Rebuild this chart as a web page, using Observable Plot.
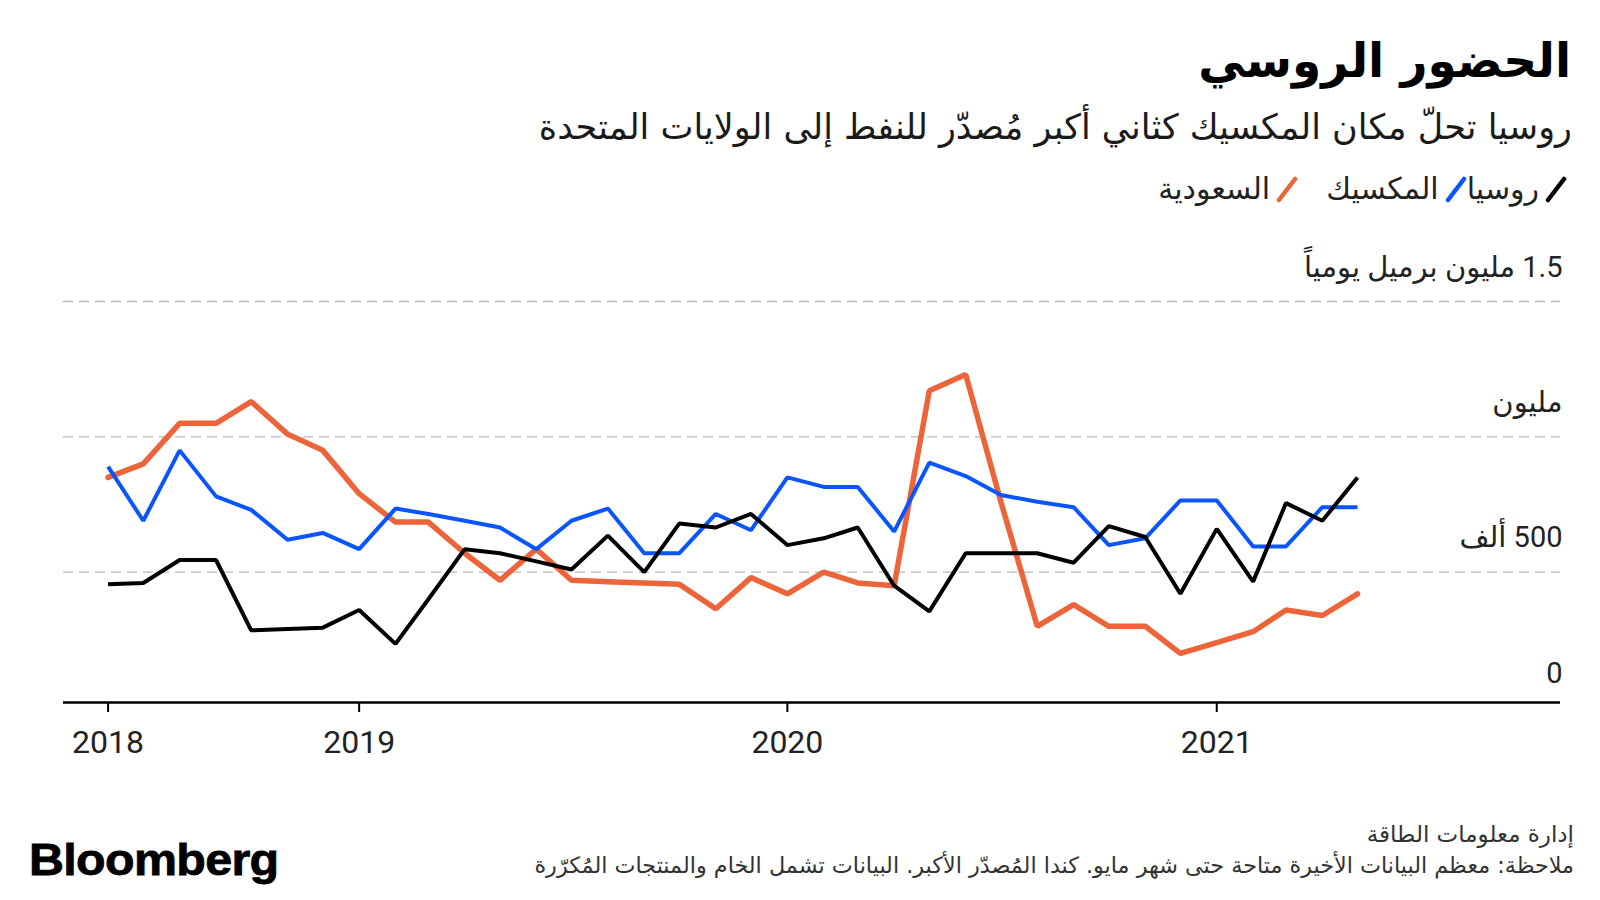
<!DOCTYPE html>
<html>
<head>
<meta charset="utf-8">
<script src="https://cdn.jsdelivr.net/npm/d3@7"></script>
<script src="https://cdn.jsdelivr.net/npm/@observablehq/plot@0.6"></script>
<style>
  html, body { margin: 0; padding: 0; background: #fff; }
  body { width: 1600px; height: 900px; position: relative; overflow: hidden; font-family: "DejaVu Sans", sans-serif; }
  .rtl { direction: rtl; position: absolute; white-space: nowrap; }
  #title { right: 29px; top: 33px; font-size: 47px; font-weight: bold; color: #000; }
  #subtitle { right: 28px; top: 107px; font-size: 35px; color: #1a1a1a; }
  #legend { right: 33px; top: 171px; font-size: 30px; color: #222; display: flex; align-items: center; }
  .item { display: flex; align-items: center; margin-left: 28px; }
  .item svg { margin-left: 6px; }
  #chart { position: absolute; left: 0; top: 240px; }
  #source { right: 26px; top: 821px; font-size: 23px; color: #333; }
  #note { right: 26px; top: 852px; font-size: 22.3px; color: #333; }
  #logo { position: absolute; left: 29px; top: 835px; font-family: "Liberation Sans", Arial, sans-serif; font-weight: bold; font-size: 44px; color: #000; transform: scaleX(1.1); transform-origin: left center; letter-spacing: -0.6px; -webkit-text-stroke: 0.8px #000; }
</style>
</head>
<body>
<div id="title" class="rtl"></div>
<div id="subtitle" class="rtl"></div>
<div id="legend" class="rtl"></div>
<div id="chart"></div>
<div id="source" class="rtl"></div>
<div id="note" class="rtl"></div>
<div id="logo">Bloomberg</div>
<script>
// ---- Text ----
const titleText = "الحضور الروسي";
const subtitleText = "روسيا تحلّ مكان المكسيك كثاني أكبر مُصدّر للنفط إلى الولايات المتحدة";
const sourceText = "إدارة معلومات الطاقة";
const noteText = "ملاحظة: معظم البيانات الأخيرة متاحة حتى شهر مايو. كندا المُصدّر الأكبر. البيانات تشمل الخام والمنتجات المُكرّرة";

// ---- Data (million barrels per day, monthly) ----
const months = [
  "2018-06-01","2018-07-01","2018-08-01","2018-09-01","2018-10-01","2018-11-01","2018-12-01",
  "2019-01-01","2019-02-01","2019-03-01","2019-04-01","2019-05-01","2019-06-01","2019-07-01",
  "2019-08-01","2019-09-01","2019-10-01","2019-11-01","2019-12-01",
  "2020-01-01","2020-02-01","2020-03-01","2020-04-01","2020-05-01","2020-06-01","2020-07-01",
  "2020-08-01","2020-09-01","2020-10-01","2020-11-01","2020-12-01",
  "2021-01-01","2021-02-01","2021-03-01","2021-04-01","2021-05-01"
];
const russia = [0.455, 0.46, 0.545, 0.545, 0.285, 0.29, 0.295, 0.36, 0.235, 0.40, 0.585, 0.57,
                0.54, 0.51, 0.635, 0.50, 0.68, 0.665, 0.715, 0.60, 0.625, 0.665, 0.45, 0.355,
                0.57, 0.57, 0.57, 0.535, 0.67, 0.63, 0.42, 0.66, 0.465, 0.755, 0.69, 0.85];
const mexico = [0.89, 0.69, 0.95, 0.78, 0.73, 0.62, 0.645, 0.585, 0.735, 0.715, 0.69, 0.665,
                0.585, 0.69, 0.735, 0.57, 0.57, 0.715, 0.655, 0.85, 0.815, 0.815, 0.65, 0.905,
                0.855, 0.785, 0.76, 0.74, 0.60, 0.625, 0.765, 0.765, 0.595, 0.595, 0.74, 0.74];
const saudi  = [0.85, 0.90, 1.05, 1.05, 1.13, 1.01, 0.95, 0.79, 0.685, 0.685, 0.57, 0.47,
                0.585, 0.47, 0.465, 0.46, 0.455, 0.365, 0.48, 0.42, 0.50, 0.46, 0.45, 1.17,
                1.23, 0.76, 0.30, 0.38, 0.30, 0.30, 0.20, 0.24, 0.28, 0.36, 0.34, 0.42];

const seriesNames = ["روسيا", "المكسيك", "السعودية"];
const seriesColors = ["#000000", "#0b55ff", "#ec643a"];

const xTickDates = ["2018-06-01", "2019-01-01", "2020-01-01", "2021-01-01"];
const xTickLabels = ["2018", "2019", "2020", "2021"];
const yTicks = [0, 0.5, 1, 1.5];
const yTickLabels = ["0", "500 ألف", "مليون", "1.5 مليون برميل يومياً"];

// ---- Header / legend / footer ----
document.getElementById("title").textContent = titleText;
document.getElementById("subtitle").textContent = subtitleText;
document.getElementById("source").textContent = sourceText;
document.getElementById("note").textContent = noteText;

const legend = document.getElementById("legend");
seriesNames.forEach((name, i) => {
  const item = document.createElement("div");
  item.className = "item";
  item.innerHTML = `<svg width="22" height="28" viewBox="0 0 22 28"><line x1="3" y1="25" x2="19" y2="4" stroke="${seriesColors[i]}" stroke-width="4.5" stroke-linecap="round"/></svg><span>${name}</span>`;
  if (i === 0) item.style.marginLeft = "0";
  legend.appendChild(item);
});

// ---- Chart ----
const parse = d3.utcParse("%Y-%m-%d");
const toRows = (vals) => months.map((m, i) => ({date: parse(m), value: vals[i]}));
const tickDates = xTickDates.map(parse);

const RLE = "\u202B", PDF = "\u202C";

const chart = Plot.plot({
  width: 1600,
  height: 530,
  marginLeft: 63,
  marginRight: 40,
  marginTop: 61,
  marginBottom: 68,
  style: {fontFamily: "Roboto, 'DejaVu Sans', sans-serif", color: "#000", background: "#fff", overflow: "visible"},
  x: {type: "utc", domain: [new Date(Date.UTC(2018, 3, 24)), new Date(Date.UTC(2021, 9, 21))], label: null},
  y: {domain: [0, 1.5], range: [467, 61], axis: null},
  marks: [
    Plot.ruleY(yTicks.filter(d => d > 0), {stroke: "#b8b8b8", strokeWidth: 1.3, strokeDasharray: "10,6"}),
    Plot.ruleY([0], {stroke: "#000", strokeWidth: 2.5, dy: -5}),
    Plot.axisX({
      ticks: tickDates,
      tickFormat: d => xTickLabels[tickDates.findIndex(t => +t === +d)],
      tickSize: 10,
      tickPadding: 18,
      strokeWidth: 2,
      fontSize: 32,
      fill: "#222",
      label: null
    }),
    Plot.text(yTicks, {
      y: d => d,
      text: (d, i) => RLE + yTickLabels[i] + PDF,
      frameAnchor: "right",
      textAnchor: "end",
      dx: 2,
      dy: -34,
      fontSize: 29,
      fill: "#222"
    }),
    Plot.line(toRows(saudi), {x: "date", y: "value", stroke: seriesColors[2], strokeWidth: 5.5, strokeLinejoin: "miter", strokeLinecap: "round"}),
    Plot.line(toRows(mexico), {x: "date", y: "value", stroke: seriesColors[1], strokeWidth: 4, strokeLinejoin: "miter", strokeLinecap: "butt"}),
    Plot.line(toRows(russia), {x: "date", y: "value", stroke: seriesColors[0], strokeWidth: 4, strokeLinejoin: "miter", strokeLinecap: "butt"})
  ]
});
document.getElementById("chart").appendChild(chart);
</script>
</body>
</html>
